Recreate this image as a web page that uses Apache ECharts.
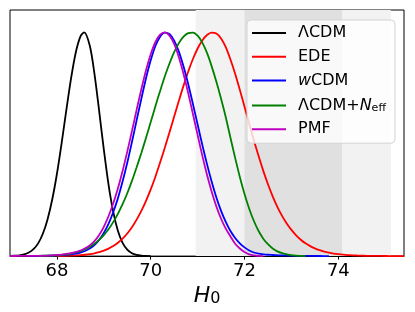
<!DOCTYPE html>
<html>
<head>
<meta charset="utf-8">
<script src="https://cdn.jsdelivr.net/npm/echarts@6/dist/echarts.min.js"></script>
<style>
html,body{margin:0;padding:0;background:#fff;}
#chart{width:415px;height:312px;}
</style>
</head>
<body>
<div id="chart"></div>
<script>
// ---- data ----
const seriesNames = ['ΛCDM', 'EDE', 'wCDM', 'ΛCDM+Neff', 'PMF'];
const tickValues = [68, 70, 72, 74];
const bandOuter = [70.96, 75.12];
const bandInner = [72.0, 74.08];

const lcdm = [[67.0,0.001],[67.1,0.0015],[67.2,0.0034],[67.3,0.0077],[67.4,0.016],[67.5,0.031],[67.6,0.057],[67.7,0.100],[67.8,0.164],[67.9,0.253],[68.0,0.367],[68.1,0.504],[68.2,0.651],[68.3,0.792],[68.4,0.908],[68.5,0.981],[68.58,1.0],[68.7,0.941],[68.8,0.816],[68.9,0.650],[69.0,0.477],[69.1,0.321],[69.2,0.199],[69.3,0.113],[69.4,0.059],[69.5,0.029],[69.6,0.0126],[69.7,0.0051],[69.8,0.0019],[69.9,0.0007],[70.0,0.0002]];

const ede = [[68.0,0.0005],[68.2,0.0012],[68.3,0.0019],[68.4,0.0028],[68.5,0.0042],[68.6,0.0061],[68.7,0.0088],[68.8,0.0125],[68.9,0.0176],[69.0,0.0244],[69.1,0.0333],[69.2,0.0449],[69.3,0.0597],[69.4,0.0782],[69.5,0.101],[69.6,0.129],[69.7,0.163],[69.8,0.202],[69.9,0.247],[70.0,0.298],[70.1,0.355],[70.2,0.418],[70.3,0.484],[70.4,0.553],[70.5,0.624],[70.6,0.694],[70.7,0.762],[70.8,0.825],[70.9,0.881],[71.0,0.928],[71.1,0.964],[71.2,0.988],[71.3,0.999],[71.4,0.995],[71.5,0.973],[71.6,0.934],[71.7,0.879],[71.8,0.815],[71.9,0.743],[72.0,0.668],[72.1,0.592],[72.2,0.517],[72.3,0.447],[72.4,0.381],[72.5,0.321],[72.6,0.267],[72.7,0.220],[72.8,0.180],[72.9,0.146],[73.0,0.117],[73.1,0.093],[73.2,0.073],[73.3,0.057],[73.4,0.0446],[73.5,0.0344],[73.6,0.0264],[73.7,0.0201],[73.8,0.0153],[73.9,0.0115],[74.0,0.0086],[74.1,0.0064],[74.2,0.0048],[74.3,0.0035],[74.4,0.0026],[74.5,0.0019],[74.6,0.0014],[74.8,0.0008],[75.0,0.0004],[75.2,0.0002],[75.4,0.0001]];

const wcdm = [[67.4,0.0005],[67.8,0.002],[68.0,0.003],[68.1,0.004],[68.2,0.006],[68.3,0.008],[68.4,0.011],[68.5,0.016],[68.6,0.023],[68.7,0.034],[68.8,0.0495],[68.9,0.0726],[69.0,0.1037],[69.1,0.144],[69.2,0.196],[69.3,0.258],[69.4,0.333],[69.5,0.417],[69.6,0.510],[69.7,0.607],[69.8,0.703],[69.9,0.795],[70.0,0.875],[70.1,0.939],[70.2,0.981],[70.3,0.999],[70.4,0.993],[70.5,0.963],[70.6,0.914],[70.7,0.847],[70.8,0.768],[70.9,0.680],[71.0,0.588],[71.1,0.497],[71.2,0.411],[71.3,0.332],[71.4,0.262],[71.5,0.202],[71.6,0.153],[71.7,0.112],[71.8,0.081],[71.9,0.057],[72.0,0.039],[72.1,0.025],[72.2,0.016],[72.3,0.011],[72.4,0.008],[72.5,0.006],[72.6,0.005],[72.8,0.003],[73.0,0.002],[73.3,0.001],[73.6,0.0005],[73.8,0]];

const lcdmNeff = [[67.6,0.001],[67.8,0.002],[67.9,0.0026],[68.0,0.0038],[68.1,0.0056],[68.2,0.0081],[68.3,0.0115],[68.4,0.0162],[68.5,0.0224],[68.6,0.0307],[68.7,0.0415],[68.8,0.0552],[68.9,0.0725],[69.0,0.094],[69.1,0.120],[69.2,0.152],[69.3,0.189],[69.4,0.232],[69.5,0.281],[69.6,0.336],[69.7,0.397],[69.8,0.461],[69.9,0.529],[70.0,0.599],[70.1,0.670],[70.2,0.738],[70.3,0.803],[70.4,0.861],[70.5,0.912],[70.6,0.952],[70.7,0.981],[70.8,0.997],[70.9,0.999],[71.0,0.985],[71.1,0.954],[71.2,0.908],[71.3,0.848],[71.4,0.779],[71.5,0.703],[71.6,0.621],[71.7,0.529],[71.8,0.439],[71.9,0.354],[72.0,0.278],[72.1,0.212],[72.2,0.157],[72.3,0.112],[72.4,0.078],[72.5,0.053],[72.6,0.034],[72.7,0.021],[72.8,0.013],[72.9,0.008],[73.0,0.004],[73.1,0.002],[73.2,0.001],[73.3,0]];

const pmf = [[67.0,0.0005],[67.4,0.001],[67.8,0.002],[67.9,0.003],[68.0,0.005],[68.1,0.007],[68.2,0.010],[68.3,0.013],[68.4,0.018],[68.5,0.025],[68.6,0.035],[68.7,0.048],[68.8,0.0665],[68.9,0.0945],[69.0,0.131],[69.1,0.178],[69.2,0.235],[69.3,0.302],[69.4,0.380],[69.5,0.467],[69.6,0.559],[69.7,0.654],[69.8,0.746],[69.9,0.831],[70.0,0.902],[70.1,0.957],[70.2,0.990],[70.3,1.0],[70.4,0.985],[70.5,0.948],[70.6,0.889],[70.7,0.814],[70.8,0.728],[70.9,0.635],[71.0,0.541],[71.1,0.449],[71.2,0.364],[71.3,0.288],[71.4,0.222],[71.5,0.167],[71.6,0.123],[71.7,0.088],[71.8,0.055],[71.9,0.034],[72.0,0.018],[72.1,0.008],[72.2,0.003],[72.3,0.001],[72.4,0]];

const seriesData = [lcdm, ede, wcdm, lcdmNeff, pmf];
const seriesColors = ['#000000', '#ff0000', '#0000ff', '#008000', '#bf00bf'];

const FONT = 'DejaVu Sans';
const chart = echarts.init(document.getElementById('chart'), null, {renderer: 'canvas'});

const lines = seriesNames.map((n, i) => ({
  name: n,
  type: 'line',
  data: seriesData[i],
  showSymbol: false,
  symbol: 'none',
  smooth: 0.3,
  z: 3,
  lineStyle: {color: seriesColors[i], width: 1.8},
  itemStyle: {color: seriesColors[i]},
  animation: false
}));

const bands = {
  name: 'bands',
  type: 'line',
  data: [],
  z: 1,
  silent: true,
  animation: false,
  markArea: {
    silent: true,
    data: [
      [{xAxis: bandOuter[0], itemStyle: {color: '#f2f2f2'}}, {xAxis: bandOuter[1]}],
      [{xAxis: bandInner[0], itemStyle: {color: '#e0e0e0'}}, {xAxis: bandInner[1]}]
    ]
  }
};

const legendLabel = {
  'ΛCDM': 'ΛCDM',
  'EDE': 'EDE',
  'wCDM': '{it|w}CDM',
  'ΛCDM+Neff': 'ΛCDM+{it|N}{sub|eff}',
  'PMF': 'PMF'
};

chart.setOption({
  animation: false,
  backgroundColor: '#ffffff',
  grid: {left: 10, top: 10, right: 11, bottom: 51, show: true, borderColor: '#000', borderWidth: 1, backgroundColor: 'transparent'},
  xAxis: {
    type: 'value', min: 67, max: 75.4,
    axisLine: {show: true, lineStyle: {color: '#000', width: 1}},
    axisTick: {show: true, customValues: tickValues, length: 3.5, lineStyle: {color: '#000', width: 1}},
    axisLabel: {customValues: tickValues, margin: 6, fontFamily: FONT, fontSize: 18, color: '#000'},
    splitLine: {show: false},
    name: '{h|H}{s|0}',
    nameLocation: 'middle',
    nameGap: 20,
    nameTextStyle: {
      rich: {
        h: {fontFamily: FONT, fontStyle: 'italic', fontSize: 22, color: '#000', lineHeight: 28, verticalAlign: 'bottom'},
        s: {fontFamily: FONT, fontSize: 16, color: '#000', lineHeight: 14, verticalAlign: 'bottom'}
      }
    }
  },
  yAxis: {
    type: 'value', min: 0, max: 1.1,
    axisLine: {show: false}, axisTick: {show: false}, axisLabel: {show: false}, splitLine: {show: false}
  },
  legend: {
    data: seriesNames,
    orient: 'vertical',
    left: 247, top: 20,
    padding: [5, 9, 6, 5],
    itemWidth: 34, itemHeight: 2,
    icon: 'rect',
    itemGap: 7.8,
    backgroundColor: 'rgba(255,255,255,0.8)',
    borderColor: '#d4d4d4', borderWidth: 1, borderRadius: 4,
    formatter: n => legendLabel[n],
    textStyle: {
      fontFamily: FONT, fontSize: 16, lineHeight: 16, color: '#000', padding: [0, 0, 0, 7],
      rich: {
        it: {fontFamily: FONT, fontStyle: 'italic', fontSize: 16, color: '#000'},
        sub: {fontFamily: FONT, fontSize: 11, color: '#000', verticalAlign: 'bottom', lineHeight: 10, padding: [6, 0, 0, 0]}
      }
    }
  },
  series: [bands].concat(lines)
});
</script>
</body>
</html>
